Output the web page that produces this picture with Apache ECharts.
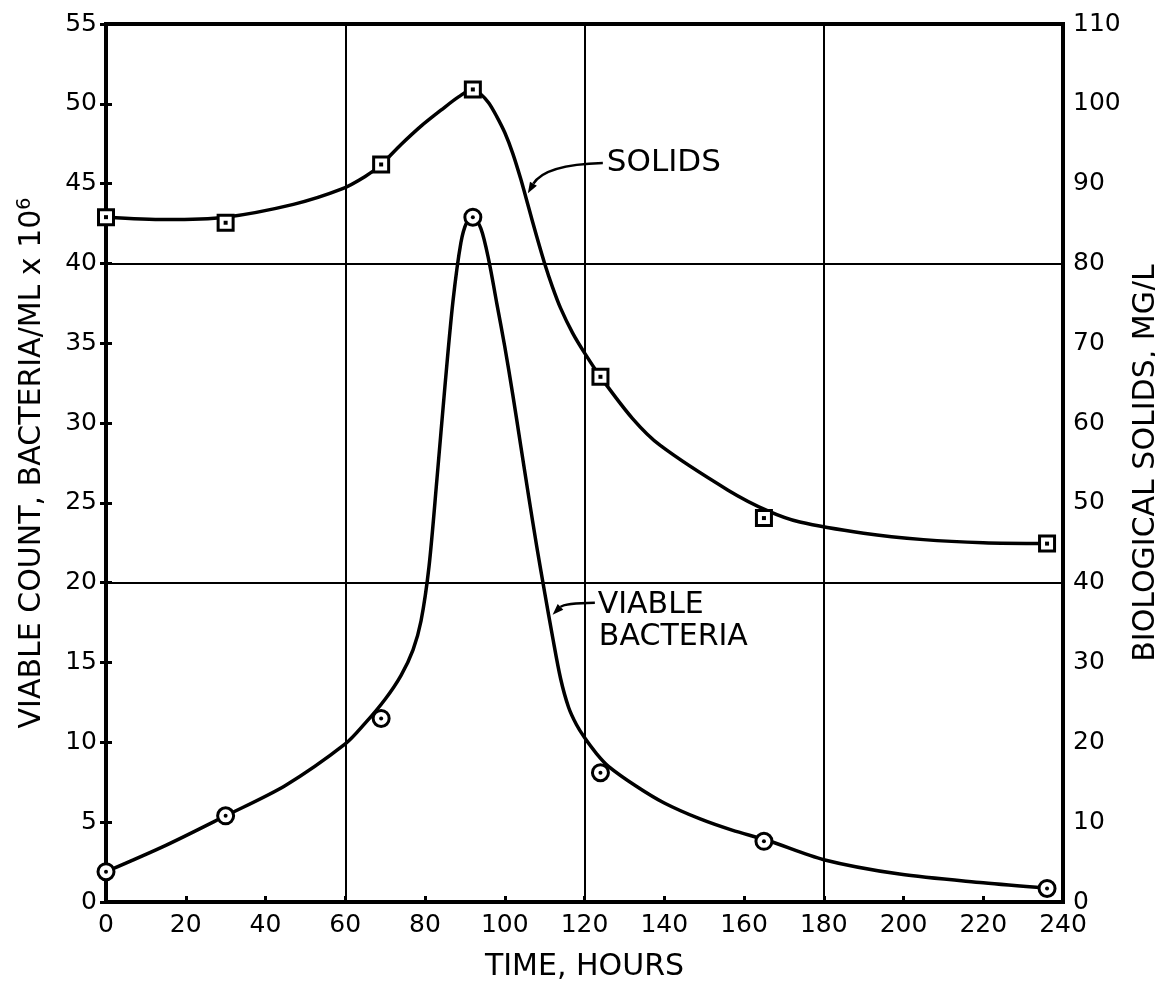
<!DOCTYPE html>
<html><head><meta charset="utf-8">
<script src="https://cdn.jsdelivr.net/npm/echarts@6/dist/echarts.min.js"></script>
<style>html,body{margin:0;padding:0;background:#fff}#c{width:1155px;height:988px}</style>
</head><body><div id="c"></div>
<script>
// ---- measured points (time in hours) ----
const timeHours   = [0, 30, 69, 92, 124, 165, 236];
const viableCount = [1.9, 5.4, 11.5, 42.9, 8.1, 3.8, 0.85];      // bacteria/ml x 10^6 (left axis)
const solidsMgL   = [85.8, 85.1, 92.4, 101.8, 65.8, 48.1, 44.9];  // mg/l (right axis)

// ---- hand-drawn fitted curves ----
const viableCurveHours = [0, 15, 30, 45, 60, 65, 70, 74, 77, 79, 81, 83, 85, 87, 89, 90.5, 92, 94, 96, 98, 100, 102, 104, 106, 108, 110, 112, 114, 116, 118, 120, 123, 126, 133, 140, 149, 157, 166, 180, 199, 220, 236];
const viableCurveValue = [1.9, 3.55, 5.4, 7.3, 9.9, 11.2, 12.7, 14.2, 15.8, 17.6, 21.0, 26.5, 32.3, 37.6, 41.3, 42.6, 42.9, 42.2, 40.2, 37.5, 34.8, 31.8, 28.6, 25.4, 22.3, 19.4, 16.6, 14.0, 12.2, 11.1, 10.3, 9.3, 8.5, 7.25, 6.2, 5.2, 4.5, 3.85, 2.65, 1.75, 1.2, 0.86];
const solidsCurveHours = [0, 15, 30, 47, 59, 65, 69, 74, 79, 84, 88.5, 92, 94, 96, 98, 100, 102, 104, 106, 108, 110, 112, 114, 117, 120, 124, 132, 139, 156, 166, 174, 190, 205, 220, 236];
const solidsCurveValue = [85.8, 85.5, 85.8, 87.4, 89.3, 90.9, 92.4, 94.9, 97.2, 99.2, 100.9, 101.8, 101.2, 100.1, 98.4, 96.4, 93.8, 90.6, 87.0, 83.4, 80.0, 77.0, 74.4, 71.3, 68.8, 65.8, 60.6, 57.2, 51.6, 49.0, 47.6, 46.2, 45.4, 45.0, 44.9];

// ---- axes ----
const xMin = 0, xMax = 240, xStep = 20, xGridStep = 60;
const leftMin = 0, leftMax = 55, leftStep = 5, leftGridStep = 20;
const rightMin = 0, rightMax = 110, rightStep = 10;

// ---- text ----
const xTitle = 'TIME, HOURS';
const leftTitle = 'VIABLE COUNT, BACTERIA/ML x 10{sup|6}';
const rightTitle = 'BIOLOGICAL SOLIDS, MG/L';
const solidsLabel = 'SOLIDS';
const viableLabel1 = 'VIABLE';
const viableLabel2 = 'BACTERIA';

const FONT = 'DejaVu Sans';
const pair = (xs, ys) => xs.map((x, i) => [x, ys[i]]);

const chart = echarts.init(document.getElementById('c'), null, {renderer: 'canvas'});
const axisTxt = {fontFamily: FONT, fontSize: 25, color: '#000'};
const nameTxt = {fontFamily: FONT, fontSize: 30, color: '#000'};

chart.setOption({
  animation: false,
  backgroundColor: '#fff',
  grid: {left: 106, right: 92, top: 24, bottom: 86, outerBoundsMode: 'none', containLabel: false,
         show: true, borderColor: '#000', borderWidth: 4, backgroundColor: 'transparent'},
  xAxis: [{
    type: 'value', min: xMin, max: xMax, interval: xStep, position: 'bottom',
    axisLine: {show: true, lineStyle: {color: '#000', width: 4}},
    axisTick: {show: true, inside: true, length: 6, lineStyle: {color: '#000', width: 3}},
    axisLabel: Object.assign({margin: 11}, axisTxt),
    splitLine: {show: false},
    name: xTitle, nameLocation: 'middle', nameGap: 50, nameTextStyle: nameTxt
  }, {
    type: 'value', min: xMin, max: xMax, interval: xGridStep, position: 'top',
    axisLine: {show: false}, axisTick: {show: false}, axisLabel: {show: false},
    splitLine: {show: true, lineStyle: {color: '#000', width: 2}}
  }],
  yAxis: [{
    type: 'value', min: leftMin, max: leftMax, interval: leftStep, position: 'left',
    axisLine: {show: true, lineStyle: {color: '#000', width: 4}},
    axisTick: {show: true, inside: true, length: 6, lineStyle: {color: '#000', width: 3}},
    axisLabel: Object.assign({margin: 9}, axisTxt),
    splitLine: {show: false},
    name: leftTitle, nameLocation: 'middle', nameGap: 57, nameRotate: 90,
    nameTextStyle: Object.assign({rich: {sup: {fontFamily: FONT, fontSize: 19, color: '#000', verticalAlign: 'top', padding: [0, 0, 14, 0]}}}, nameTxt)
  }, {
    type: 'value', min: rightMin, max: rightMax, interval: rightStep, position: 'right',
    axisLine: {show: true, lineStyle: {color: '#000', width: 4}},
    axisTick: {show: true, inside: true, length: 6, lineStyle: {color: '#000', width: 3}},
    axisLabel: Object.assign({margin: 10}, axisTxt),
    splitLine: {show: false},
    name: rightTitle, nameLocation: 'middle', nameGap: 59, nameRotate: 90, nameTextStyle: nameTxt
  }, {
    type: 'value', min: leftMin, max: leftMax, interval: leftGridStep, position: 'left',
    axisLine: {show: false}, axisTick: {show: false}, axisLabel: {show: false},
    splitLine: {show: true, lineStyle: {color: '#000', width: 2}}
  }],
  series: [
    {name: 'Viable curve', type: 'line', xAxisIndex: 0, yAxisIndex: 0, data: pair(viableCurveHours, viableCurveValue),
     smooth: 0.3, showSymbol: false, symbol: 'none', lineStyle: {color: '#000', width: 3.5}, z: 3},
    {name: 'Solids curve', type: 'line', xAxisIndex: 0, yAxisIndex: 1, data: pair(solidsCurveHours, solidsCurveValue),
     smooth: 0.3, showSymbol: false, symbol: 'none', lineStyle: {color: '#000', width: 3.5}, z: 3},
    {name: 'Viable bacteria', type: 'scatter', xAxisIndex: 0, yAxisIndex: 0, data: pair(timeHours, viableCount),
     symbol: 'circle', symbolSize: 16, itemStyle: {color: '#fff', borderColor: '#000', borderWidth: 3, opacity: 1}, z: 5},
    {name: 'Viable dot', type: 'scatter', xAxisIndex: 0, yAxisIndex: 0, data: pair(timeHours, viableCount),
     symbol: 'circle', symbolSize: 4, itemStyle: {color: '#000', opacity: 1}, z: 6},
    {name: 'Solids', type: 'scatter', xAxisIndex: 0, yAxisIndex: 1, data: pair(timeHours, solidsMgL),
     symbol: 'rect', symbolSize: 15, itemStyle: {color: '#fff', borderColor: '#000', borderWidth: 3, opacity: 1}, z: 5},
    {name: 'Solids dot', type: 'scatter', xAxisIndex: 0, yAxisIndex: 1, data: pair(timeHours, solidsMgL),
     symbol: 'rect', symbolSize: 4, itemStyle: {color: '#000', opacity: 1}, z: 6}
  ]
});

// ---- annotations (anchored in data units: hours, left-axis units) ----
const solidsText   = [125.6, 46.3];
const solidsArrow  = [[124.6, 46.3], [110.0, 46.2], [105.8, 44.4]];
const viableText1  = [123.3, 18.6];
const viableText2  = [123.6, 16.6];
const viableArrow  = [[122.6, 18.75], [115.0, 18.73], [112.0, 18.0]];

const px = p => chart.convertToPixel({xAxisIndex: 0, yAxisIndex: 0}, p);
function arrow(pts) {
  const [a, c, b] = pts.map(px);
  const dx = b[0] - c[0], dy = b[1] - c[1], L = Math.hypot(dx, dy) || 1;
  const ux = dx / L, uy = dy / L, hl = 11, hw = 4;
  const base = [b[0] - ux * hl, b[1] - uy * hl];
  return [
    {type: 'bezierCurve', shape: {x1: a[0], y1: a[1], cpx1: c[0], cpy1: c[1], x2: base[0], y2: base[1]},
     style: {stroke: '#000', lineWidth: 2.5, fill: null}, z: 10},
    {type: 'polygon', shape: {points: [b, [base[0] - uy * hw, base[1] + ux * hw], [base[0] + uy * hw, base[1] - ux * hw]]},
     style: {fill: '#000'}, z: 10}
  ];
}
function label(txt, p, size) {
  const q = px(p);
  return {type: 'text', x: q[0], y: q[1], z: 10,
    style: {text: txt, fontFamily: FONT, fontSize: size, fill: '#000', align: 'left', verticalAlign: 'middle'}};
}
chart.setOption({graphic: [
  ...arrow(solidsArrow), label(solidsLabel, solidsText, 31),
  ...arrow(viableArrow), label(viableLabel1, viableText1, 30), label(viableLabel2, viableText2, 30)
]});
</script></body></html>
